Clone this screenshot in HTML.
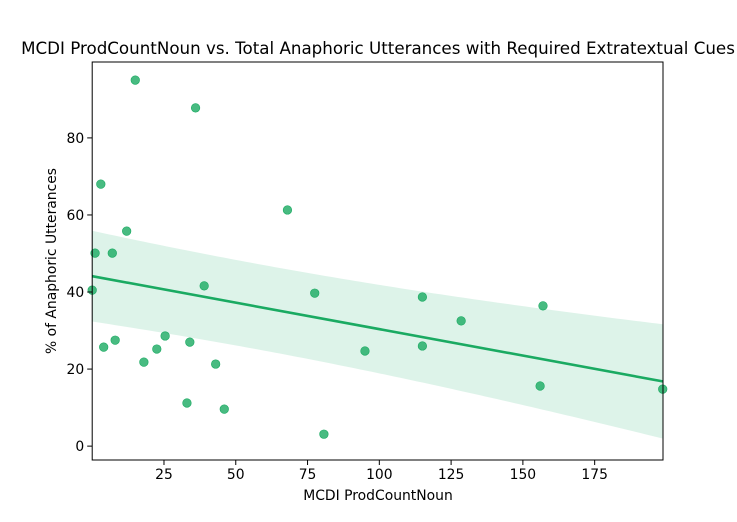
<!DOCTYPE html>
<html><head><meta charset="utf-8"><style>
body{margin:0;background:#fff;}
svg text{font-family:"DejaVu Sans","Liberation Sans",sans-serif;fill:#000;}
</style></head><body>
<svg id="chart" width="737" height="517" viewBox="0 0 737 517" xmlns="http://www.w3.org/2000/svg">
<rect width="737" height="517" fill="#fff"/>
<text x="378" y="54" font-size="16.7" text-anchor="middle">MCDI ProdCountNoun vs. Total Anaphoric Utterances with Required Extratextual Cues</text>
<g id="band"></g><g id="line"></g><g id="points"></g><g id="axes"></g>
<text x="378" y="500" font-size="13.9" text-anchor="middle">MCDI ProdCountNoun</text>
<text transform="translate(56,261) rotate(-90)" font-size="13.9" text-anchor="middle">% of Anaphoric Utterances</text>
</svg>
<script>
const xValues=[0,1,3,4,7,8,12,15,18,22.5,25.4,33,34,36,39,43,46,68,77.5,80.7,95,115,115,128.5,156,157,198.7];
const yValues=[40.5,50.1,68,25.7,50.1,27.5,55.8,95,21.8,25.2,28.6,11.2,27,87.8,41.6,21.3,9.6,61.3,39.7,3.1,24.7,38.7,26,32.5,15.6,36.4,14.8];
const xTicks=[25,50,75,100,125,150,175];
const yTicks=[0,20,40,60,80];
const L=92.2,R=663,T=62,B=460;
const xMin=0,xMax=198.8,yMin=-3.6,yMax=99.7;
const sx=v=>L+(v-xMin)/(xMax-xMin)*(R-L);
const sy=v=>B-(v-yMin)/(yMax-yMin)*(B-T);
const NS="http://www.w3.org/2000/svg";
function mk(tag,attrs,parent){const e=document.createElementNS(NS,tag);for(const k in attrs)e.setAttribute(k,attrs[k]);parent.appendChild(e);return e;}
const n=xValues.length;
const xm=xValues.reduce((a,b)=>a+b)/n, ym=yValues.reduce((a,b)=>a+b)/n;
let sxx=0,sxy=0;for(let i=0;i<n;i++){sxx+=(xValues[i]-xm)**2;sxy+=(xValues[i]-xm)*(yValues[i]-ym);}
const slope=sxy/sxx, icpt=ym-slope*xm;
let sse=0;for(let i=0;i<n;i++)sse+=(yValues[i]-icpt-slope*xValues[i])**2;
const s=Math.sqrt(sse/(n-2)), t=2.06;
const x0=Math.min(...xValues), x1=Math.max(...xValues);
let up=[],lo=[];
for(let k=0;k<=100;k++){const x=x0+(x1-x0)*k/100;const yh=icpt+slope*x;const se=s*Math.sqrt(1.7/n+0.2*(x-xm)**2/sxx)*t;up.push(sx(x)+","+sy(yh+se));lo.unshift(sx(x)+","+sy(yh-se));}
const band=mk('polygon',{points:up.concat(lo).join(' '),fill:'#1aaf6c',opacity:'0.15'},document.getElementById('band'));


const ln=mk('line',{x1:sx(x0),y1:sy(icpt+slope*x0),x2:sx(x1),y2:sy(icpt+slope*x1),stroke:'#1aaa62','stroke-width':2.6},document.getElementById('line'));


const pg=document.getElementById('points');
for(let i=0;i<n;i++){const c=mk('circle',{cx:sx(xValues[i]),cy:sy(yValues[i]),r:4.3,fill:'#1aaa62','fill-opacity':0.8,stroke:'#1aaa62','stroke-width':0.6},pg);

}
const ax=document.getElementById('axes');
const fr=mk('rect',{x:L,y:T,width:R-L,height:B-T,fill:'none',stroke:'#000','stroke-width':1},ax);


xTicks.forEach(v=>{const x=sx(v);mk('line',{x1:x,y1:B,x2:x,y2:B+5,stroke:'#000'},ax);const tx=mk('text',{x:x,y:B+19,'font-size':13.9,'text-anchor':'middle'},ax);tx.textContent=v;

});
yTicks.forEach(v=>{const y=sy(v);mk('line',{x1:L-5,y1:y,x2:L,y2:y,stroke:'#000'},ax);const tx=mk('text',{x:L-8,y:y+5,'font-size':13.9,'text-anchor':'end'},ax);tx.textContent=v;

});
</script>
</body></html>
